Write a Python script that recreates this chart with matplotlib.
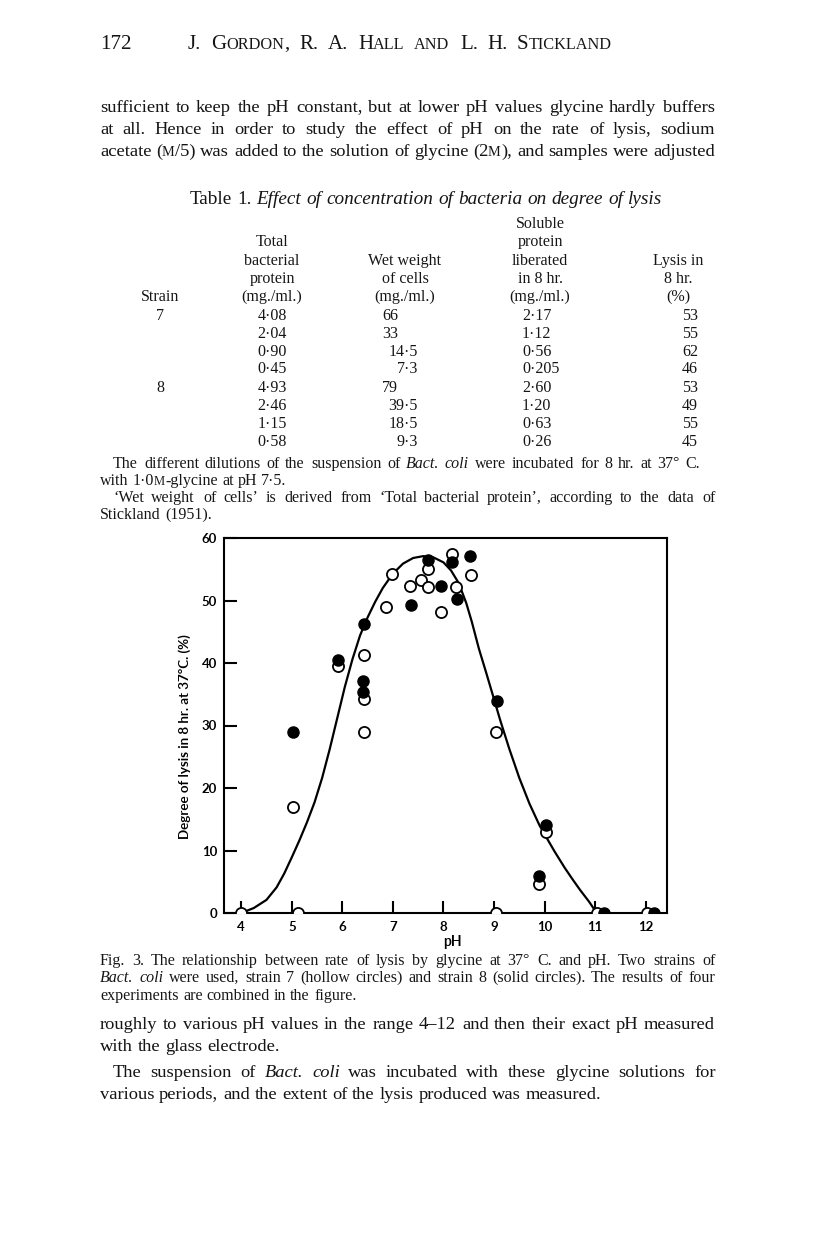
import matplotlib
matplotlib.use("Agg")
import matplotlib.pyplot as plt

# hinted glyphs keep the words of a justified line on one baseline
plt.rcParams["text.hinting"] = "native"

W, H = 816, 1237

# ---- data ----
# strain 7 (hollow circles)
ph_hollow = [4.00, 5.02, 5.12, 5.92, 6.42, 6.43, 6.43, 6.87, 6.98, 7.34, 7.56, 7.70,
             7.70, 7.95, 8.16, 8.25, 8.55, 9.03, 9.04, 9.88, 10.02, 11.03, 12.02]
lysis_hollow = [0.0, 16.9, 0.0, 39.5, 29.0, 34.2, 41.3, 49.0, 54.2, 52.3, 53.3, 55.1,
                52.2, 48.1, 57.4, 52.1, 54.1, 0.0, 29.0, 4.7, 12.9, 0.0, 0.0]
# strain 8 (solid circles)
ph_solid = [5.02, 5.91, 6.40, 6.40, 6.42, 7.35, 7.70, 7.95, 8.16, 8.26, 8.53,
            9.05, 9.88, 10.02, 11.18, 12.16]
lysis_solid = [28.9, 40.5, 35.3, 37.1, 46.2, 49.3, 56.5, 52.3, 56.1, 50.2, 57.2,
               34.0, 5.9, 14.1, 0.0, 0.0]
# fitted curve
curve_ph = [4.00, 4.25, 4.50, 4.70, 4.85, 5.00, 5.15, 5.30, 5.45, 5.60, 5.75, 5.90,
            6.05, 6.20, 6.35, 6.50, 6.65, 6.80, 7.00, 7.20, 7.40, 7.60, 7.80, 8.00,
            8.15, 8.30, 8.45, 8.56, 8.70, 8.85, 9.00, 9.12, 9.30, 9.50, 9.70, 9.90,
            10.02, 10.20, 10.40, 10.56, 10.70, 10.88, 11.03]
curve_lysis = [0.0, 0.8, 2.1, 4.1, 6.3, 8.9, 11.6, 14.5, 17.7, 21.6, 26.2, 31.2,
               36.2, 40.6, 44.4, 47.3, 49.8, 52.0, 54.3, 55.9, 56.8, 57.1, 56.9, 56.1,
               54.8, 52.8, 49.6, 46.6, 42.3, 38.3, 34.2, 30.9, 26.3, 21.6, 17.5, 14.0,
               12.3, 9.8, 7.2, 5.3, 3.7, 1.8, 0.0]

x_ticks = [4, 5, 6, 7, 8, 9, 10, 11, 12]
y_ticks = [0, 10, 20, 30, 40, 50, 60]

# Table 1
table_strain = ["7", "", "", "", "8", "", "", ""]
table_total = ["4·08", "2·04", "0·90", "0·45", "4·93", "2·46", "1·15", "0·58"]
table_wet = ["66", "33", "14·5", "7·3", "79", "39·5", "18·5", "9·3"]
table_soluble = ["2·17", "1·12", "0·56", "0·205", "2·60", "1·20", "0·63", "0·26"]
table_lysis = ["53", "55", "62", "46", "53", "49", "55", "45"]

SERIF = "Liberation Serif"
SANS = "Lato"
INK = "#151515"

fig = plt.figure(figsize=(W / 100, H / 100), dpi=100)
fig.patch.set_facecolor("white")
renderer = fig.canvas.get_renderer()


def fx(x):
    return x / W


def fy(y):
    return 1 - y / H


def make_piece(s, style, size):
    kw = dict(family=SERIF, fontsize=size, ha="left", va="baseline", color=INK)
    if style == "i":
        kw["style"] = "italic"
    if style == "sc":
        s = s.upper()
        kw["fontsize"] = size * 0.78
    return fig.text(0, 0, s, **kw)


def put_line(y, x0, x1, segs, size, justify=True, center=None):
    # split the segments into words, then spread the words between x0 and x1
    words = [[]]
    for text, style in segs:
        parts = text.split(" ")
        for i, p in enumerate(parts):
            if i > 0:
                words.append([])
            if p:
                words[-1].append((p, style))
    words = [w for w in words if w]
    items = []
    for w in words:
        arts = []
        width = 0.0
        for p, st in w:
            t = make_piece(p, st, size)
            arts.append((t, width))
            width += t.get_window_extent(renderer).width
        items.append((arts, width))
    total = sum(w for _, w in items)
    space = size * 100 / 72 * 0.26
    if justify and len(items) > 1:
        gap = (x1 - x0 - total) / (len(items) - 1)
    else:
        gap = space
    if center is not None:
        x = center - (total + gap * (len(items) - 1)) / 2
    else:
        x = x0
    for arts, width in items:
        for t, off in arts:
            t.set_position((fx(round(x + off)), fy(y)))
        x += width + gap


# ---- running head ----
fig.text(fx(100), fy(49), "172", family=SERIF, fontsize=15, va="baseline", color=INK)
put_line(49, 188, 612, [("J. G", "r"), ("ordon", "sc"), (", R. A. H", "r"), ("all", "sc"),
                        (" ", "r"), ("and", "sc"), (" L. H. S", "r"), ("tickland", "sc")],
         15, justify=True)

BODY = 13.3
put_line(112, 100, 715, [("sufficient to keep the pH constant, but at lower pH values glycine hardly buffers", "r")], BODY)
put_line(134, 100, 715, [("at all.  Hence in order to study the effect of pH on the rate of lysis, sodium", "r")], BODY)
put_line(156, 100, 715, [("acetate (", "r"), ("m", "sc"), ("/5) was added to the solution of glycine (2", "r"),
                         ("m", "sc"), ("), and samples were adjusted", "r")], BODY)

# ---- Table 1 ----
put_line(204, 0, 0, [("Table 1.  ", "r"), ("Effect of concentration of bacteria on degree of lysis", "i")],
         13.8, justify=False, center=426)

TAB = 11.5
head = [
    (540, 228, "Soluble"),
    (272, 246, "Total"), (540, 246, "protein"),
    (272, 265, "bacterial"), (405, 265, "Wet weight"), (540, 265, "liberated"), (678, 265, "Lysis in"),
    (272, 283, "protein"), (405, 283, "of cells"), (540, 283, "in 8 hr."), (678, 283, "8 hr."),
    (160, 301, "Strain"), (272, 301, "(mg./ml.)"), (405, 301, "(mg./ml.)"), (540, 301, "(mg./ml.)"),
    (678, 301, "(%)"),
]
for x, y, s in head:
    fig.text(fx(x), fy(y), s, family=SERIF, fontsize=TAB, ha="center", va="baseline", color=INK)

row_y = [320, 338, 356, 373, 392, 410, 428, 446]
for i, y in enumerate(row_y):
    tk = dict(family=SERIF, fontsize=TAB, va="baseline", color=INK)
    if table_strain[i]:
        fig.text(fx(160), fy(y), table_strain[i], ha="center", **tk)
    fig.text(fx(272), fy(y), table_total[i], ha="center", **tk)
    if "·" in table_wet[i]:
        fig.text(fx(418), fy(y), table_wet[i], ha="right", **tk)
    else:
        fig.text(fx(382), fy(y), table_wet[i], ha="left", **tk)
    fig.text(fx(522), fy(y), table_soluble[i], ha="left", **tk)
    fig.text(fx(690), fy(y), table_lysis[i], ha="center", **tk)

NOTE = 11.5
put_line(468, 113, 700, [("The different dilutions of the suspension of ", "r"), ("Bact. coli", "i"),
                         (" were incubated for 8 hr. at 37° C.", "r")], NOTE)
put_line(485, 100, 0, [("with 1·0", "r"), ("m", "sc"), ("-glycine at pH 7·5.", "r")], NOTE, justify=False)
put_line(502, 113, 715, [("‘Wet weight of cells’ is derived from ‘Total bacterial protein’, according to the data of", "r")], NOTE)
put_line(519, 100, 0, [("Stickland (1951).", "r")], NOTE, justify=False)

# ---- Fig. 3 ----
ax = fig.add_axes([fx(224), fy(913), (667 - 224) / W, (913 - 538) / H])
ax.plot(curve_ph, curve_lysis, color="black", lw=1.6, zorder=2)
ax.plot(ph_hollow, lysis_hollow, "o", ms=8, mfc="white", mec="black", mew=1.3, zorder=3)
ax.plot(ph_solid, lysis_solid, "o", ms=8, mfc="black", mec="black", mew=1.0, zorder=3)
ax.set_xlim(3.66, 12.42)
ax.set_ylim(0, 60)
ax.set_xticks(x_ticks)
ax.set_yticks(y_ticks)
for sp in ax.spines.values():
    sp.set_linewidth(1.5)
ax.tick_params(axis="both", direction="in", width=1.5, colors="black")
ax.tick_params(axis="x", length=9, pad=6)
ax.tick_params(axis="y", length=9.5, pad=5)
for lab in ax.get_xticklabels() + ax.get_yticklabels():
    lab.set_family(SANS)
    lab.set_weight("bold")
    lab.set_fontsize(9.5)
ax.set_xlabel("pH", family=SANS, fontsize=10, weight="bold")
ax.xaxis.set_label_coords((452 - 224) / 443, -0.058)
ax.set_ylabel("Degree of lysis in 8 hr. at 37°C. (%)", family=SANS, fontsize=9.6, weight="bold")
ax.yaxis.set_label_coords(-0.075, 0.47)

# ---- caption ----
put_line(965, 100, 715, [("Fig. 3.  The relationship between rate of lysis by glycine at 37° C. and pH. Two strains of", "r")], NOTE)
put_line(982, 100, 715, [("Bact. coli", "i"), (" were used, strain 7 (hollow circles) and strain 8 (solid circles). The results of four", "r")], NOTE)
put_line(1000, 100, 0, [("experiments are combined in the figure.", "r")], NOTE, justify=False)

put_line(1029, 100, 715, [("roughly to various pH values in the range 4–12 and then their exact pH measured", "r")], BODY)
put_line(1051, 100, 0, [("with the glass electrode.", "r")], BODY, justify=False)
put_line(1077, 113, 715, [("The suspension of ", "r"), ("Bact. coli", "i"),
                          (" was incubated with these glycine solutions for", "r")], BODY)
put_line(1099, 100, 0, [("various periods, and the extent of the lysis produced was measured.", "r")], BODY, justify=False)

fig.savefig("out.png", dpi=100, facecolor="white")
